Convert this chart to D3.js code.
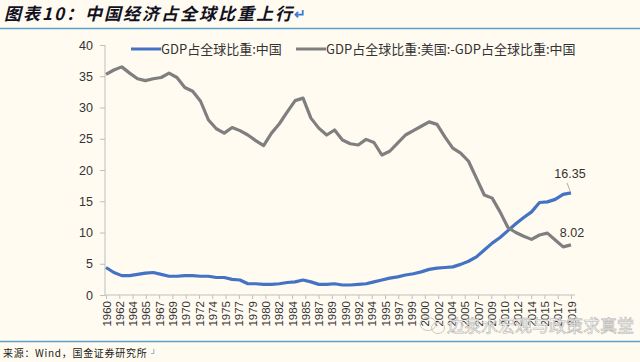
<!DOCTYPE html>
<html>
<head>
<meta charset="utf-8">
<script src="https://cdn.jsdelivr.net/npm/d3@7"></script>
<style>
  html, body { margin: 0; padding: 0; background: #fffbf1; }
  svg { display: block; font-family: "Liberation Sans", Arial, "Noto Sans CJK SC", sans-serif; }
  .cjk { font-family: "Noto Sans CJK SC", sans-serif; }
  .axis path, .axis line { stroke: #bfbfbf; }
  .axis text { fill: #333; }
</style>
</head>
<body>
<div id="chart"></div>
<script>
const years = d3.range(1960, 2020);

// GDP share of world: China
const chinaShare = [
  4.4, 3.6, 3.1, 3.1, 3.3, 3.5, 3.6, 3.3, 3.0, 3.0,
  3.1, 3.1, 3.0, 3.0, 2.8, 2.8, 2.5, 2.4, 1.8, 1.8,
  1.7, 1.7, 1.8, 2.0, 2.1, 2.4, 2.1, 1.7, 1.7, 1.8,
  1.6, 1.6, 1.7, 1.8, 2.1, 2.4, 2.7, 2.9, 3.2, 3.4,
  3.7, 4.1, 4.3, 4.4, 4.5, 4.9, 5.4, 6.1, 7.2, 8.3,
  9.2, 10.3, 11.4, 12.4, 13.3, 14.8, 14.9, 15.3, 16.1, 16.35
];

// GDP share of world: US minus China
const usMinusChina = [
  35.3, 36.0, 36.5, 35.5, 34.6, 34.3, 34.6, 34.8, 35.5, 34.8,
  33.2, 32.6, 31.0, 28.0, 26.6, 25.9, 26.8, 26.3, 25.6, 24.7,
  23.9, 25.9, 27.4, 29.3, 31.1, 31.5, 28.3, 26.7, 25.6, 26.4,
  24.8, 24.2, 24.0, 24.9, 24.4, 22.4, 23.0, 24.3, 25.6, 26.3,
  27.0, 27.7, 27.3, 25.3, 23.5, 22.7, 21.4, 18.7, 16.0, 15.5,
  13.3, 10.8, 10.0, 9.4, 8.9, 9.6, 9.9, 8.8, 7.7, 8.02
];

// category labels shown on the axis (evenly spaced, as Excel skips them)
const xLabels = ["1960", "1962", "1964", "1965", "1967", "1969", "1970", "1972", "1974", "1975",
  "1977", "1979", "1980", "1982", "1984", "1985", "1987", "1989", "1990", "1992", "1994", "1995",
  "1997", "1999", "2000", "2002", "2004", "2005", "2007", "2009", "2010", "2012", "2014", "2015",
  "2017", "2019"];
const yTicks = [0, 5, 10, 15, 20, 25, 30, 35, 40];

const seriesNames = ["GDP占全球比重:中国", "GDP占全球比重:美国:-GDP占全球比重:中国"];
const colors = ["#4472c4", "#7f7f7f"];

const width = 640, height = 362;
const svg = d3.select("#chart").append("svg")
  .attr("width", width).attr("height", height);

svg.append("rect").attr("width", width).attr("height", height).attr("fill", "#fffbf1");

// title
svg.append("text")
  .attr("class", "cjk")
  .attr("x", 4).attr("y", 20)
  .attr("font-size", 17).attr("font-weight", "bold").attr("font-style", "italic")
  .attr("letter-spacing", 2)
  .attr("fill", "#111122")
  .text("图表10：中国经济占全球比重上行");
svg.append("text")
  .attr("x", 294).attr("y", 19)
  .attr("font-size", 14).attr("font-weight", "bold")
  .attr("fill", "#3d7bd9")
  .text("↵");
svg.append("line").attr("x1", 0).attr("x2", 640).attr("y1", 28.5).attr("y2", 28.5)
  .attr("stroke", "#5aa0c8").attr("stroke-width", 1.5);

// footer
svg.append("line").attr("x1", 0).attr("x2", 640).attr("y1", 341.5).attr("y2", 341.5)
  .attr("stroke", "#5aa0c8").attr("stroke-width", 1.5);
svg.append("text")
  .attr("class", "cjk")
  .attr("x", 3).attr("y", 357)
  .attr("font-size", 10).attr("letter-spacing", 0.7)
  .attr("fill", "#222")
  .text("来源：Wind，国金证券研究所");
svg.append("text")
  .attr("x", 151).attr("y", 356)
  .attr("font-size", 8).attr("fill", "#3d7bd9")
  .text("┘");

const x = d3.scaleLinear().domain([1960, 2019]).range([106, 571]);
const y = d3.scaleLinear().domain([0, 40]).range([295, 45]);

// axes
const yAxis = svg.append("g").attr("class", "axis")
  .attr("transform", "translate(105,0)")
  .call(d3.axisLeft(y).tickValues(yTicks).tickSize(5).tickPadding(7));
yAxis.select(".domain").attr("d", `M0,${y(0)}V${y(40)}`);
yAxis.selectAll("text").attr("font-size", 12.5).attr("fill", "#333");

const step = (2019 - 1960) / (xLabels.length - 1);
const tickPos = xLabels.map((d, i) => 1960 + i * step);
const xAxis = svg.append("g").attr("class", "axis")
  .attr("transform", `translate(0,${y(0)})`)
  .call(d3.axisBottom(x).tickValues(tickPos).tickFormat((d, i) => xLabels[i])
    .tickSize(4).tickSizeOuter(0));
xAxis.select(".domain").attr("d", `M105,0H575`);
xAxis.selectAll("text")
  .attr("font-size", 11.5).attr("fill", "#333")
  .attr("transform", "rotate(-90)")
  .attr("text-anchor", "end")
  .attr("x", -6).attr("y", 0).attr("dy", "0.35em");

// lines
const line = d3.line().x((d, i) => x(years[i])).y(d => y(d));
[chinaShare, usMinusChina].forEach((vals, k) => {
  svg.append("path")
    .datum(vals)
    .attr("fill", "none")
    .attr("stroke", colors[k])
    .attr("stroke-width", 3.2)
    .attr("stroke-linejoin", "round")
    .attr("d", line);
});

// end labels
const last = years.length - 1;
svg.append("line")
  .attr("x1", x(years[last]) - 4).attr("y1", y(chinaShare[last]) - 10)
  .attr("x2", x(years[last]) - 1).attr("y2", y(chinaShare[last]) - 2)
  .attr("stroke", "#999").attr("stroke-width", 0.8);
svg.append("text")
  .attr("x", x(years[last]) - 1).attr("y", y(chinaShare[last]) - 15)
  .attr("text-anchor", "middle").attr("font-size", 12.5).attr("fill", "#333")
  .text(chinaShare[last].toFixed(2));
svg.append("text")
  .attr("x", x(years[last]) + 1).attr("y", y(usMinusChina[last]) - 8)
  .attr("text-anchor", "middle").attr("font-size", 12.5).attr("fill", "#333")
  .text(usMinusChina[last].toFixed(2));

// legend
const legendPos = [131, 296];
seriesNames.forEach((name, k) => {
  const g = svg.append("g").attr("transform", `translate(${legendPos[k]},49)`);
  g.append("line").attr("x1", 0).attr("x2", 30).attr("stroke", colors[k]).attr("stroke-width", 3);
  g.append("text").attr("class", "cjk").attr("x", 30).attr("y", 4.5)
    .attr("font-size", 13).attr("fill", "#333").text(name);
});

// watermark
const wm = svg.append("g").attr("fill", "none").attr("stroke", "#c8c8c8").attr("stroke-width", 1);
wm.append("ellipse").attr("cx", 428).attr("cy", 324).attr("rx", 8).attr("ry", 6.5);
wm.append("ellipse").attr("cx", 438).attr("cy", 328).attr("rx", 6.5).attr("ry", 5.5);
svg.append("text")
  .attr("class", "cjk")
  .attr("x", 447).attr("y", 332)
  .attr("font-size", 17).attr("fill", "#ffffff").attr("fill-opacity", 0.85)
  .attr("stroke", "#b5b5b5").attr("stroke-width", 0.6)
  .text("边泉水宏观与政策求真堂");
</script>
</body>
</html>
